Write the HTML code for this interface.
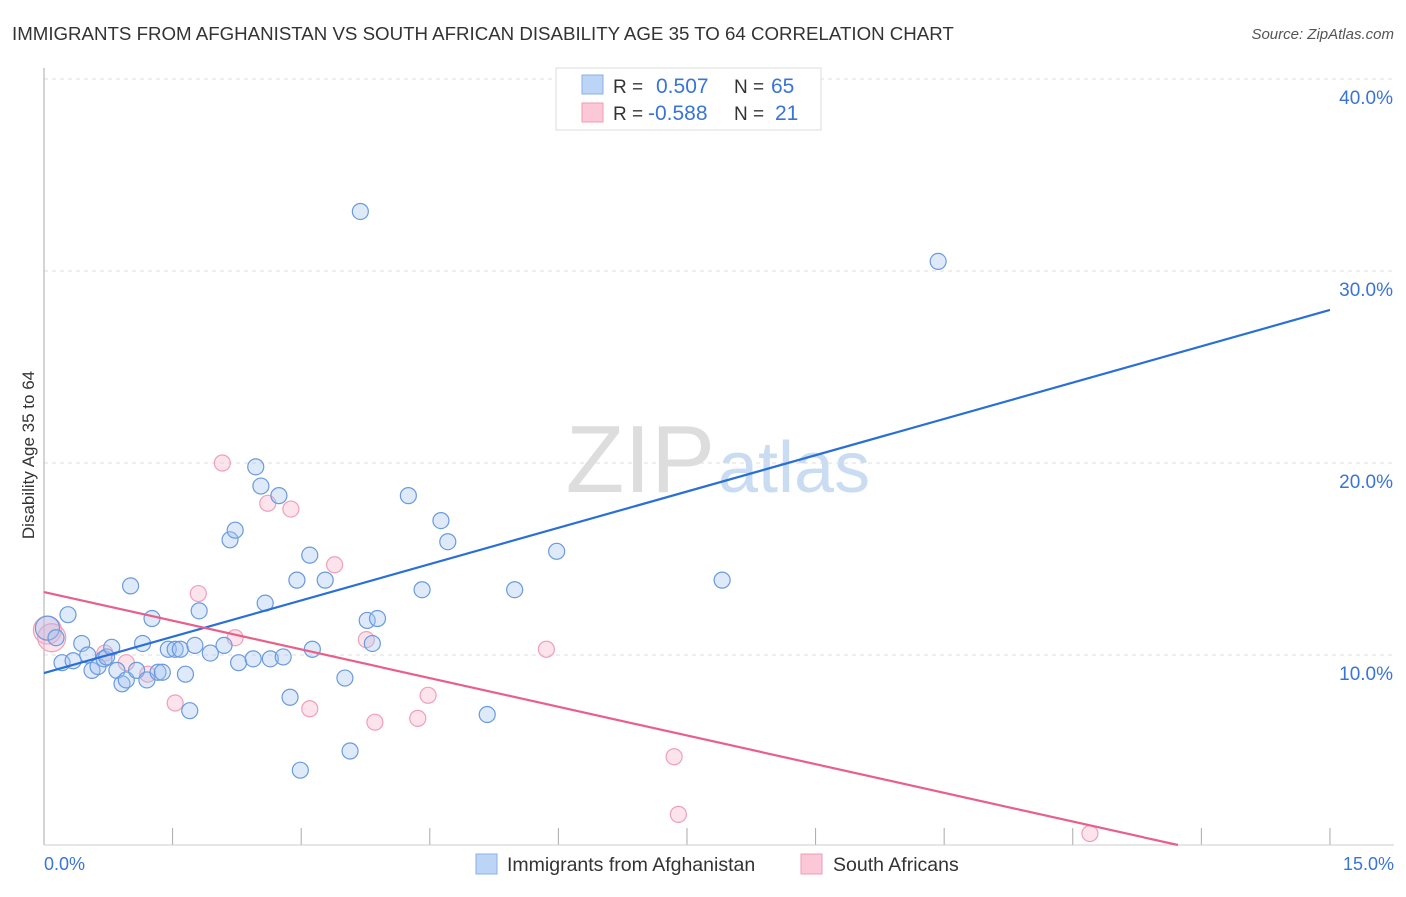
<!DOCTYPE html>
<html><head><meta charset="utf-8"><style>
body{margin:0;background:#fff;font-family:"Liberation Sans",sans-serif;}
svg text{font-family:"Liberation Sans",sans-serif;}
</style></head><body>
<svg id="chart" width="1406" height="892" xmlns="http://www.w3.org/2000/svg">
<text x="12" y="40" font-size="18.7" fill="#333">IMMIGRANTS FROM AFGHANISTAN VS SOUTH AFRICAN DISABILITY AGE 35 TO 64 CORRELATION CHART</text>
<text x="1394" y="39" font-size="15" fill="#555" font-style="italic" text-anchor="end">Source: ZipAtlas.com</text>
<text x="715" y="492" font-size="96" fill="#ddd" font-family="Liberation Serif" text-anchor="end">ZIP</text>
<text x="718" y="492" font-size="72" fill="#c9dcf2">atlas</text>
<g id="grid"></g>
<line x1="44" y1="68" x2="44" y2="845" stroke="#aaa"/>
<line x1="44" y1="845" x2="1394" y2="845" stroke="#ccc"/>
<text x="34" y="455" font-size="17" fill="#333" text-anchor="middle" transform="rotate(-90 34 455)">Disability Age 35 to 64</text>
<text x="44" y="870" font-size="18" fill="#3a74d6">0.0%</text>
<text x="1394" y="870" font-size="18" fill="#3a74d6" text-anchor="end">15.0%</text>
<g id="pts"></g>
<g>
<rect x="556" y="68" width="265" height="62" fill="#fff" stroke="#ddd"/>
<rect x="582" y="75" width="21" height="19" fill="#bcd4f5" stroke="#8ab0e8"/>
<rect x="582" y="103" width="21" height="19" fill="#fbc8d8" stroke="#f09ab5"/>
<text x="613" y="93" font-size="19" fill="#333">R =</text>
<text x="656" y="93" font-size="21" fill="#3a74d6">0.507</text>
<text x="734" y="93" font-size="19" fill="#333">N =</text>
<text x="771" y="93" font-size="21" fill="#3a74d6">65</text>
<text x="613" y="120" font-size="19" fill="#333">R =</text>
<text x="648" y="120" font-size="21" fill="#3a74d6">-0.588</text>
<text x="734" y="120" font-size="19" fill="#333">N =</text>
<text x="775" y="120" font-size="21" fill="#3a74d6">21</text>
</g>
<g>
<rect x="476" y="854" width="21" height="20" fill="#bcd4f5" stroke="#8ab0e8"/>
<text x="507" y="871" font-size="19.5" fill="#333">Immigrants from Afghanistan</text>
<rect x="801" y="854" width="21" height="20" fill="#fbc8d8" stroke="#f09ab5"/>
<text x="833" y="871" font-size="19.5" fill="#333">South Africans</text>
</g>
</svg>
<script>
const yTicks=[10,20,30,40];
const xTicks=[0,1.5,3,4.5,6,7.5,9,10.5,12,13.5,15];
const blueX=[0.04,0.14,0.21,0.28,0.34,0.44,0.51,0.56,0.63,0.70,0.73,0.79,0.85,0.91,0.96,1.01,1.08,1.15,1.20,1.26,1.33,1.38,1.45,1.53,1.59,1.65,1.70,1.76,1.81,1.94,2.10,2.17,2.23,2.27,2.44,2.47,2.53,2.58,2.64,2.74,2.79,2.87,2.95,2.99,3.10,3.13,3.28,3.51,3.57,3.69,3.77,3.83,3.89,4.25,4.41,4.63,4.71,5.17,5.49,5.98,7.91,10.43];
const blueY=[11.4,10.9,9.6,12.1,9.7,10.6,10.0,9.2,9.4,9.8,9.9,10.4,9.2,8.5,8.7,13.6,9.2,10.6,8.7,11.9,9.1,9.1,10.3,10.3,10.3,9.0,7.1,10.5,12.3,10.1,10.5,16.0,16.5,9.6,9.8,19.8,18.8,12.7,9.8,18.3,9.9,7.8,13.9,4.0,15.2,10.3,13.9,8.8,5.0,33.1,11.8,10.6,11.9,18.3,13.4,17.0,15.9,6.9,13.4,15.4,13.9,30.5];
const pinkX=[0.04,0.09,0.71,0.96,1.21,1.53,1.80,2.08,2.23,2.61,2.88,3.10,3.39,3.76,3.86,4.36,4.48,5.86,7.35,7.40,12.20];
const pinkY=[11.3,10.9,10.1,9.6,9.0,7.5,13.2,20.0,10.9,17.9,17.6,7.2,14.7,10.8,6.5,6.7,7.9,10.3,4.7,1.7,0.7];
const blueFit=[9.06,27.97];
const pinkFit=[13.28,-1.78];
const X=v=>44+v*85.73, Y=v=>847-v*19.2;
const NS='http://www.w3.org/2000/svg';
const grid=document.getElementById('grid'), pts=document.getElementById('pts');
function mk(tag,attrs,parent){const e=document.createElementNS(NS,tag);for(const k in attrs)e.setAttribute(k,attrs[k]);parent.appendChild(e);return e;}
yTicks.forEach(t=>{
  const l=mk('line',{x1:44,x2:1394,y1:Y(t),y2:Y(t),stroke:'#ddd','stroke-dasharray':'4,4'},grid);
  
  
  const tx=mk('text',{x:1393,y:Y(t)+25,'font-size':19,fill:'#3a74d6','text-anchor':'end'},grid);
  tx.textContent=t.toFixed(1)+'%';
  
  
});
xTicks.forEach(t=>{
  const l=mk('line',{x1:X(t),x2:X(t),y1:828,y2:845,stroke:'#aaa'},grid);
  
  
});
pinkX.forEach((x,i)=>{
  const c=mk('circle',{cx:X(x),cy:Y(pinkY[i]),r:i<2?14:8,fill:'rgba(248,176,200,0.35)',stroke:'#f0a0b8','stroke-width':1.2},pts);
  
  
});
blueX.forEach((x,i)=>{
  const c=mk('circle',{cx:X(x),cy:Y(blueY[i]),r:i==0?12:8,fill:'rgba(160,196,240,0.35)',stroke:'#6a9ade','stroke-width':1.2},pts);
  
  
});
const bl=mk('line',{x1:X(0),y1:Y(blueFit[0]),x2:X(15),y2:Y(blueFit[1]),stroke:'#2a6fd6','stroke-width':2.2},pts);


const xe=pinkFit[0]/((pinkFit[0]-pinkFit[1])/15);
const pl=mk('line',{x1:X(0),y1:Y(pinkFit[0]),x2:X(xe),y2:Y(0)-2,stroke:'#e8608a','stroke-width':2.2},pts);


</script>
</body></html>
